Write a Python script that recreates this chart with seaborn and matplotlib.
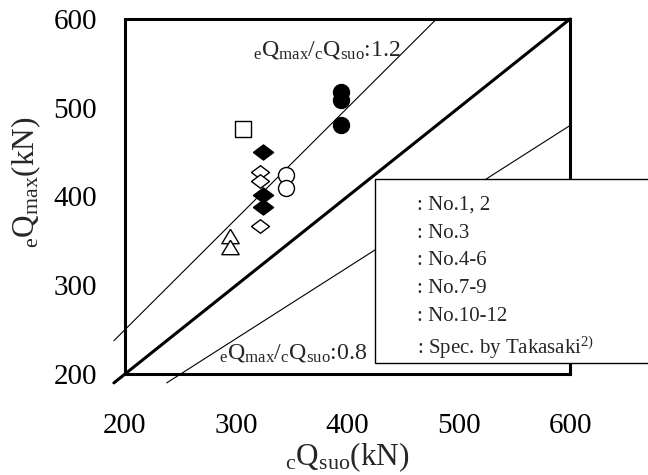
import numpy as np
import matplotlib
matplotlib.use("Agg")
import matplotlib.pyplot as plt
from matplotlib.lines import Line2D
from matplotlib.patches import Rectangle
import seaborn as sns

# Specimen results: calculated strength cQsuo vs. experimental max strength eQmax (kN)
tri_x = [294, 294]
tri_y = [355, 343]
sq_x = [306]
sq_y = [476]
fdia_x = [324, 324, 324]
fdia_y = [450, 402, 388]
odia_x = [321, 321, 321]
odia_y = [428, 417, 367]
fcir_x = [394, 394, 394]
fcir_y = [518, 509, 480]
ocir_x = [345, 345]
ocir_y = [424, 410]

legend_labels = [": No.1, 2", ": No.3", ": No.4-6", ": No.7-9", ": No.10-12",
                 r": Spec. by Takasaki$^{2)}$"]

# Reference ratio lines eQmax/cQsuo
ratio_thin = [1.25, 0.8]
ratio_thick = [1.0]
line_lo, line_hi = 190, 600

ticks = [200, 300, 400, 500, 600]

sns.set_theme(style="white")
plt.rcParams["font.family"] = ["Liberation Serif", "DejaVu Serif"]
plt.rcParams["mathtext.fontset"] = "custom"
plt.rcParams["mathtext.rm"] = "Liberation Serif"
plt.rcParams["mathtext.it"] = "Liberation Serif:italic"

W, H = 648, 475
fig = plt.figure(figsize=(W / 100, H / 100), dpi=100)
ax = fig.add_axes([125 / W, 1 - 374 / H, 445 / W, 355 / H])

def ratio_segment(r):
    x0 = max(line_lo, line_lo / r)
    x1 = min(line_hi, line_hi / r)
    xs = np.array([x0, x1])
    return xs, r * xs

for r in ratio_thick:
    xs, ys = ratio_segment(r)
    ax.plot(xs, ys, color="black", lw=2.2, clip_on=False, zorder=2)
for r in ratio_thin:
    xs, ys = ratio_segment(r)
    ax.plot(xs, ys, color="black", lw=0.8, clip_on=False, zorder=2)

diamond = np.array([[-1, 0], [0, 0.75], [1, 0], [0, -0.75], [-1, 0]])
triangle = np.array([[0, 0.83], [-1, -0.83], [1, -0.83], [0, 0.83]])

kw = dict(ax=ax, legend=False, edgecolor="black", linewidth=1.0, zorder=4, clip_on=False)
sns.scatterplot(x=tri_x, y=tri_y, marker=triangle, s=12.5 ** 2, color="white", **kw)
sns.scatterplot(x=sq_x, y=sq_y, marker="s", s=11.5 ** 2, color="white", **kw)
sns.scatterplot(x=fdia_x, y=fdia_y, marker=diamond, s=14.5 ** 2, color="black", **kw)
sns.scatterplot(x=odia_x, y=odia_y, marker=diamond, s=13 ** 2, color="white", **kw)
sns.scatterplot(x=fcir_x, y=fcir_y, marker="o", s=11.5 ** 2, color="black", **kw)
sns.scatterplot(x=ocir_x, y=ocir_y, marker="o", s=11.5 ** 2, color="white", **kw)

ax.text(315, 559, r"$_{\rm e}$Q$_{\rm max}$/$_{\rm c}$Q$_{\rm suo}$:1.2",
        fontsize=17.2, ha="left", va="baseline", zorder=3)
ax.text(284.5, 218, r"$_{\rm e}$Q$_{\rm max}$/$_{\rm c}$Q$_{\rm suo}$:0.8",
        fontsize=17.2, ha="left", va="baseline", zorder=3)

ax.set_xlim(200, 600)
ax.set_ylim(200, 600)
ax.set_xticks(ticks)
ax.set_yticks(ticks)
ax.tick_params(axis="both", direction="in", length=7, width=1.0,
               labelsize=21, colors="black")
ax.tick_params(axis="x", pad=28)
ax.tick_params(axis="y", pad=20)
for sp in ax.spines.values():
    sp.set_linewidth(2.2)
    sp.set_color("black")
    sp.set_zorder(3)

ax.set_xlabel(r"$_{\rm c}$Q$_{\rm suo}$(kN)", fontsize=22.5, labelpad=1)
ax.set_ylabel(r"$_{\rm e}$Q$_{\rm max}$(kN)", fontsize=22.5)
ax.yaxis.set_label_coords(-0.184, 0.54)

# Legend panel: white box overlapping the lower right of the plot
panel = Rectangle((375 / W, 1 - 363 / H), 0.5, 184 / H, transform=fig.transFigure,
                  facecolor="white", edgecolor="black", linewidth=1.0,
                  clip_on=False, zorder=5)
ax.add_patch(panel)

handles = [Line2D([], [], linestyle="none") for _ in legend_labels]
leg = ax.legend(handles, legend_labels, loc="upper left",
                bbox_to_anchor=(375 / W, 1 - 195 / H),
                bbox_transform=fig.transFigure, borderaxespad=0, borderpad=0,
                frameon=False, fontsize=15, handlelength=1.7, handletextpad=0.3,
                labelspacing=0.4)
leg.set_zorder(6)

fig.savefig("out.png", dpi=100)
